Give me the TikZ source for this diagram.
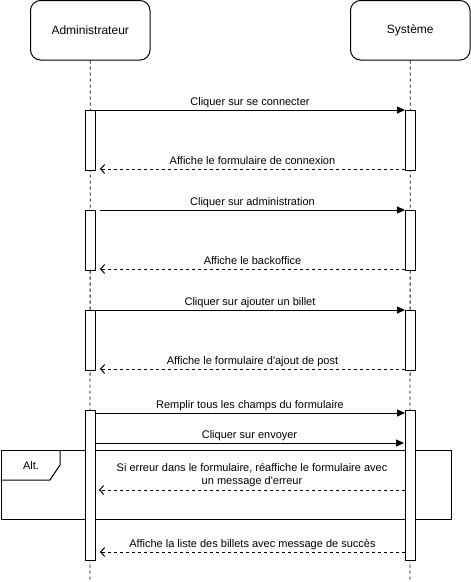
\documentclass[tikz,border=0pt]{standalone}
\usepackage{fontspec}
\setmainfont{Liberation Sans}[Ligatures=TeXOff]
\usetikzlibrary{arrows.meta}
\begin{document}
\begin{tikzpicture}[x=1pt,y=-1pt,line width=1pt,
  actor/.style={draw,rounded corners=10pt,minimum width=119.5pt,minimum height=59.5pt,
    inner sep=0pt,font=\fontsize{12}{14}\selectfont},
  lifeline/.style={line width=0.8pt,dash pattern=on 3pt off 3pt},
  bar/.style={draw,fill=white,minimum width=10pt,inner sep=0pt,anchor=north},
  call/.style={-{Triangle[length=8pt,width=7pt]}},
  reply/.style={dash pattern=on 3pt off 3pt,-{Straight Barb[length=4pt,width=9pt]}},
  msg/.style={font=\fontsize{11}{13}\selectfont,inner sep=0pt,anchor=base,yshift=5pt},
  msgtwo/.style={font=\fontsize{11}{13}\selectfont,inner sep=0pt,anchor=south,align=center,yshift=3pt}
]
\useasboundingbox (0,0) rectangle (471,582);

% participants
\node[actor] (admin) at (90.25,30.25) {Administrateur};
\node[actor] (sys) at (410.25,30.25) {Système};

% lifelines
\coordinate (adminEnd) at (90,582);
\coordinate (sysEnd) at (410,582);
\draw[lifeline] (admin.south) -- (adminEnd);
\draw[lifeline] (sys.south) -- (sysEnd);

% alt frame
\node[draw,minimum width=450pt,minimum height=69pt,inner sep=0pt,anchor=north west] (alt) at (0.5,450) {};
\coordinate (tabA) at (0.5,480);
\coordinate (tabB) at (50,480);
\coordinate (tabC) at (60,465);
\coordinate (tabD) at (60,450);
\draw (tabA) -- (tabB) -- (tabC) -- (tabD);
\node[font=\fontsize{11}{13}\selectfont] (altlabel) at (31,466) {Alt.};

% activation bars
\node[bar,minimum height=60pt] (a1) at (90,110) {};
\node[bar,minimum height=60pt] (s1) at (410,110) {};
\node[bar,minimum height=60pt] (a2) at (90,210) {};
\node[bar,minimum height=60pt] (s2) at (410,210) {};
\node[bar,minimum height=60pt] (a3) at (90,310) {};
\node[bar,minimum height=60pt] (s3) at (410,310) {};
\node[bar,minimum height=150pt] (a4) at (90,410) {};
\node[bar,minimum height=150pt] (s4) at (410,410) {};

% message end points
\coordinate (m1a) at (95,110);  \coordinate (m1b) at (405,110);
\coordinate (r1a) at (405,169); \coordinate (r1b) at (100,169);
\coordinate (m2a) at (100,210); \coordinate (m2b) at (405,210);
\coordinate (r2a) at (405,269); \coordinate (r2b) at (100,269);
\coordinate (m3a) at (95,310);  \coordinate (m3b) at (405,310);
\coordinate (r3a) at (405,369); \coordinate (r3b) at (100,369);
\coordinate (m4a) at (95,413);  \coordinate (m4b) at (405,413);
\coordinate (m5a) at (95,443);  \coordinate (m5b) at (404,443);
\coordinate (r4a) at (405,490); \coordinate (r4b) at (99,490);
\coordinate (r5a) at (405,552); \coordinate (r5b) at (100,552);

% messages
\draw[call] (m1a) -- node[msg]{Cliquer sur se connecter} (m1b);
\draw[reply] (r1a) -- node[msg]{Affiche le formulaire de connexion} (r1b);
\draw[call] (m2a) -- node[msg]{Cliquer sur administration} (m2b);
\draw[reply] (r2a) -- node[msg]{Affiche le backoffice} (r2b);
\draw[call] (m3a) -- node[msg]{Cliquer sur ajouter un billet} (m3b);
\draw[reply] (r3a) -- node[msg]{Affiche le formulaire d'ajout de post} (r3b);
\draw[call] (m4a) -- node[msg]{Remplir tous les champs du formulaire} (m4b);
\draw[call] (m5a) -- node[msg]{Cliquer sur envoyer} (m5b);
\draw[reply] (r4a) -- node[msgtwo]{Si erreur dans le formulaire, réaffiche le formulaire avec\\un message d'erreur} (r4b);
\draw[reply] (r5a) -- node[msg]{Affiche la liste des billets avec message de succès} (r5b);
\end{tikzpicture}
\end{document}
